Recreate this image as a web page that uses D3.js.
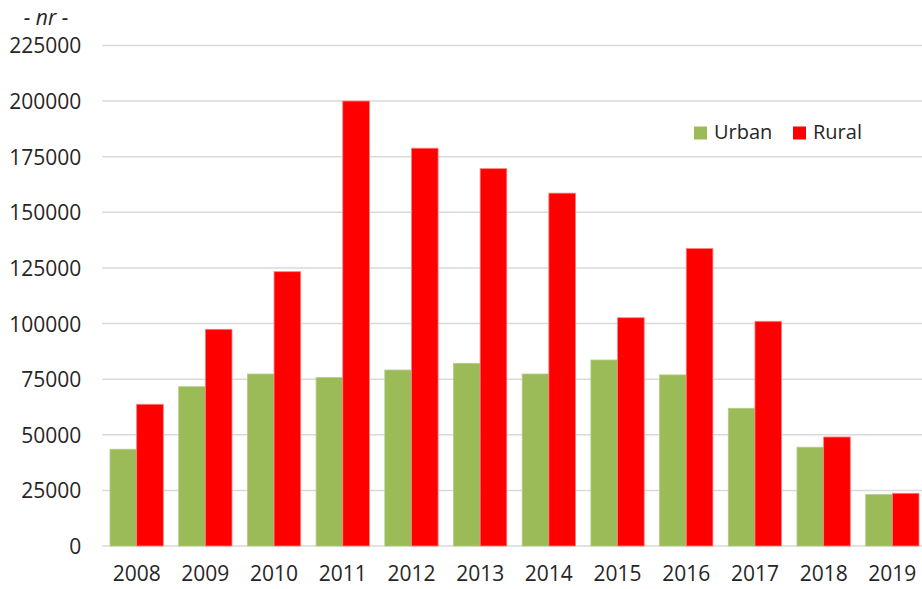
<!DOCTYPE html>
<html lang="en">
<head>
  <meta charset="utf-8">
  <title>Urban vs Rural</title>
  <style>
    body {
      margin: 0;
      background: #fff;
      overflow: hidden;
    }
    .tick-label {
      font-family: 'Open Sans', sans-serif;
      font-size: 21px;
      fill: #262626;
    }
    .grid line {
      stroke: #d9d9d9;
      stroke-width: 1.5;
    }
  </style>
</head>
<body>
  <div id="chart"></div>

  <script src="https://d3js.org/d3.v7.min.js"></script>
  <script>
    // Data
    var years = ["2008", "2009", "2010", "2011", "2012", "2013", "2014", "2015", "2016", "2017", "2018", "2019"];
    var series = ["Urban", "Rural"];
    var urban = [43500, 71600, 77300, 75700, 79100, 82100, 77300, 83600, 76900, 61900, 44400, 23100];
    var rural = [63700, 97400, 123300, 200000, 178800, 169600, 158600, 102600, 133700, 101000, 49000, 23700];
    var yTicks = [0, 25000, 50000, 75000, 100000, 125000, 150000, 175000, 200000, 225000];
    var colors = { Urban: "#9bbb59", Rural: "#ff0000" };
    var strokes = { Urban: "#b4cc86", Rural: "#ff8080" };

    var width = 922, height = 589;
    var margin = { top: 45.4, right: -4.7, bottom: 43, left: 102.3 };

    var svg = d3.select("#chart")
      .append("svg")
      .attr("width", width)
      .attr("height", height);

    var x0 = d3.scaleBand()
      .domain(years)
      .range([margin.left, width - margin.right])
      .paddingInner(0.224)
      .paddingOuter(0.112);

    var x1 = d3.scaleBand()
      .domain(series)
      .range([0, x0.bandwidth()]);

    var y = d3.scaleLinear()
      .domain([0, 225000])
      .range([height - margin.bottom, margin.top]);

    // Gridlines
    svg.append("g")
      .attr("class", "grid")
      .selectAll("line")
      .data(yTicks)
      .enter()
      .append("line")
      .attr("x1", margin.left)
      .attr("x2", width)
      .attr("y1", function(d) { return y(d); })
      .attr("y2", function(d) { return y(d); });

    // Y axis labels
    var yAxis = d3.axisLeft(y)
      .tickValues(yTicks)
      .tickSize(0)
      .tickPadding(21)
      .tickFormat(d3.format("d"));

    svg.append("g")
      .attr("transform", "translate(" + margin.left + ",0)")
      .call(yAxis)
      .call(function(g) { g.select(".domain").remove(); })
      .selectAll("text")
      .attr("class", "tick-label")
      .attr("dy", "0.36em")
      .style("font-family", null)
      .style("font-size", null);

    // Bars
    var rows = years.map(function(yr, i) {
      return { year: yr, values: [
        { key: "Urban", value: urban[i] },
        { key: "Rural", value: rural[i] }
      ] };
    });

    var groups = svg.append("g")
      .selectAll("g")
      .data(rows)
      .enter()
      .append("g")
      .attr("transform", function(d) { return "translate(" + x0(d.year) + ",0)"; });

    groups.selectAll("rect")
      .data(function(d) { return d.values; })
      .enter()
      .append("rect")
      .attr("x", function(d) { return x1(d.key); })
      .attr("y", function(d) { return y(d.value); })
      .attr("width", x1.bandwidth())
      .attr("height", function(d) { return y(0) - y(d.value); })
      .attr("fill", function(d) { return colors[d.key]; })
      .attr("stroke", function(d) { return strokes[d.key]; })
      .attr("stroke-width", 0.8);

    // X axis labels
    var xAxis = d3.axisBottom(x0)
      .tickSize(0)
      .tickPadding(20);

    svg.append("g")
      .attr("transform", "translate(0," + y(0) + ")")
      .call(xAxis)
      .call(function(g) { g.select(".domain").remove(); })
      .selectAll("text")
      .attr("class", "tick-label")
      .attr("dy", "0.71em")
      .style("font-family", null)
      .style("font-size", null);

    // Unit label
    svg.append("text")
      .attr("class", "tick-label")
      .attr("x", 46)
      .attr("y", 25)
      .attr("text-anchor", "middle")
      .style("font-style", "italic")
      .text("- nr -");

    // Legend
    var legendX = [694, 793];
    var legend = svg.append("g")
      .selectAll("g")
      .data(series)
      .enter()
      .append("g")
      .attr("transform", function(d, i) { return "translate(" + legendX[i] + ",126.5)"; });

    legend.append("rect")
      .attr("width", 13)
      .attr("height", 13)
      .attr("fill", function(d) { return colors[d]; });

    legend.append("text")
      .attr("class", "tick-label")
      .attr("x", 20)
      .attr("y", 12.5)
      .style("font-size", "20px")
      .text(function(d) { return d; });
  </script>
</body>
</html>
